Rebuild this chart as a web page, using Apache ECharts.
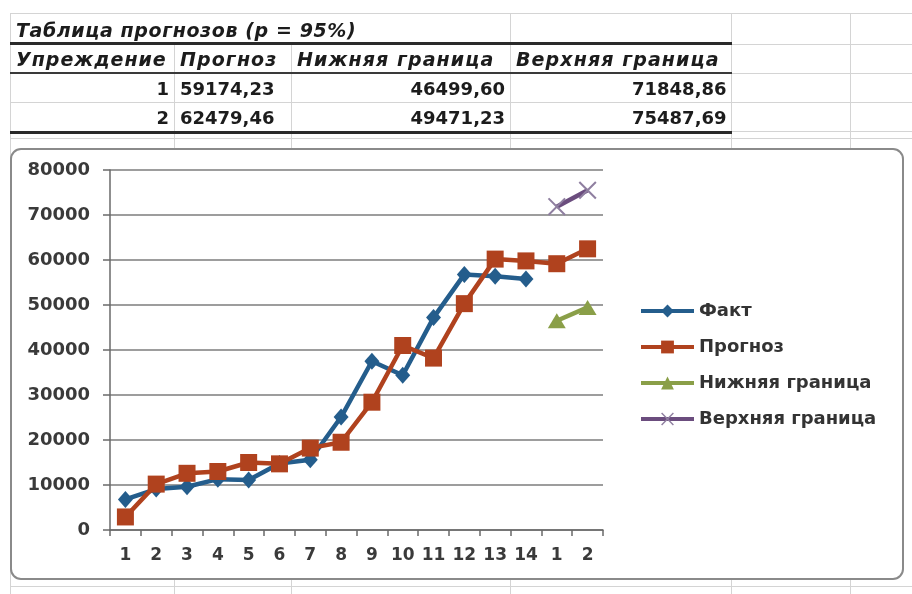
<!DOCTYPE html>
<html>
<head>
<meta charset="utf-8">
<script src="https://cdn.jsdelivr.net/npm/echarts@6/dist/echarts.min.js"></script>
<style>
  html, body { margin: 0; padding: 0; background: #fff; }
  #chart { position: absolute; left: 0; top: 0; width: 912px; height: 594px; }
  #fc {
    position: absolute; left: 10px; top: 13px;
    border-collapse: collapse; table-layout: fixed; width: 721px;
    font-family: 'DejaVu Sans', sans-serif; font-weight: bold; font-size: 18px; color: #1c1c1c;
  }
  #fc td { padding: 0 5px; white-space: nowrap; overflow: visible; border-left: 1px solid #d4d4d4; }
  #fc tr.title td { height: 24px; padding-top: 5px; font-style: italic; font-size: 19px; letter-spacing: 0.6px; border-bottom: 3px solid #2a2a2a; }
  #fc tr.head td { height: 27px; font-style: italic; font-size: 19px; letter-spacing: 1.1px; border-bottom: 2px solid #3a3a3a; }
  #fc tr.head td:first-child { letter-spacing: 1px; }
  #fc tr.row td { height: 28px; text-align: right; border-bottom: 1px solid #d4d4d4; }
  #fc tr.row.last td { border-bottom: 3px solid #2a2a2a; }
  #fc tr.row td.left { text-align: left; }
</style>
</head>
<body>
<div id="chart"></div>
<table id="fc">
  <colgroup><col style="width:164px"><col style="width:117px"><col style="width:219px"><col style="width:221px"></colgroup>
  <tbody id="fcBody"></tbody>
</table>
<script>
// данные графика
const periods = ['1', '2', '3', '4', '5', '6', '7', '8', '9', '10', '11', '12', '13', '14', '1', '2']
const factValues = [6800, 9100, 9600, 11300, 11100, 14800, 15600, 25100, 37500, 34400, 47200, 56800, 56400, 55800, null, null]
const forecastValues = [2900, 10200, 12600, 13000, 15000, 14700, 18200, 19500, 28400, 41000, 38200, 50300, 60200, 59800, 59174.23, 62479.46]
const lowerValues = [null, null, null, null, null, null, null, null, null, null, null, null, null, null, 46499.60, 49471.23]
const upperValues = [null, null, null, null, null, null, null, null, null, null, null, null, null, null, 71848.86, 75487.69]
const yTicks = [0, 10000, 20000, 30000, 40000, 50000, 60000, 70000, 80000]

// таблица прогнозов
const leads = [1, 2]
const firstLead = periods.length - leads.length
const fmt = v => v.toFixed(2).replace('.', ',')
const rows = [
  '<tr class="title"><td colspan="3">Таблица прогнозов (p = 95%)</td><td></td></tr>',
  '<tr class="head"><td>Упреждение</td><td>Прогноз</td><td>Нижняя граница</td><td>Верхняя граница</td></tr>'
]
leads.forEach((lead, i) => {
  const k = firstLead + i
  const cls = i === leads.length - 1 ? 'row last' : 'row'
  rows.push('<tr class="' + cls + '"><td>' + lead + '</td><td class="left">' + fmt(forecastValues[k]) +
    '</td><td>' + fmt(lowerValues[k]) + '</td><td>' + fmt(upperValues[k]) + '</td></tr>')
})
document.getElementById('fcBody').innerHTML = rows.join('')

// сетка листа Excel вокруг таблицы и диаграммы
const sheetLines = []
const hLine = (y, x1, x2) => sheetLines.push({ type: 'line', shape: { x1: x1, y1: y, x2: x2, y2: y }, style: { stroke: '#d4d4d4', lineWidth: 1 }, silent: true })
const vLine = (x, y1, y2) => sheetLines.push({ type: 'line', shape: { x1: x, y1: y1, x2: x, y2: y2 }, style: { stroke: '#d4d4d4', lineWidth: 1 }, silent: true })
hLine(13.5, 10, 912)
hLine(138.5, 10, 912)
;[44.5, 73.5, 102.5, 131.5].forEach(y => hLine(y, 731, 912))
hLine(586.5, 10, 912)
;[174.5, 291.5, 510.5].forEach(x => { vLine(x, 131, 148); vLine(x, 580, 594) })
;[731.5, 850.5].forEach(x => { vLine(x, 13, 148); vLine(x, 580, 594) })
vLine(10.5, 13, 594)

const chart = echarts.init(document.getElementById('chart'))
const font = 'DejaVu Sans'
const crossPath = 'path://M0,0.08 L0.08,0 L1,0.92 L0.92,1 Z M0.92,0 L1,0.08 L0.08,1 L0,0.92 Z'

const option = {
  animation: false,
  graphic: [
    { type: 'group', children: sheetLines },
    {
      type: 'rect',
      shape: { x: 11, y: 149, width: 892, height: 430, r: 10 },
      style: { fill: 'none', stroke: '#8a8a8a', lineWidth: 2 },
      silent: true
    }
  ],
  grid: { left: 110, right: 309, top: 170, bottom: 64, containLabel: false },
  legend: {
    orient: 'vertical',
    left: 634,
    top: 297,
    itemWidth: 53,
    itemHeight: 16,
    itemGap: 18,
    lineStyle: { width: 4 },
    textStyle: { fontFamily: font, fontWeight: 'bold', fontSize: 18, color: '#333' },
    data: ['Факт', 'Прогноз', 'Нижняя граница', 'Верхняя граница']
  },
  xAxis: {
    type: 'category',
    data: periods,
    boundaryGap: true,
    axisLine: { lineStyle: { color: '#6a6a6a', width: 1.5 } },
    axisTick: { show: true, length: 6, lineStyle: { color: '#6a6a6a', width: 1.5 } },
    axisLabel: { margin: 17, fontFamily: font, fontWeight: 'bold', fontSize: 17, color: '#3a3a3a' }
  },
  yAxis: {
    type: 'value',
    min: yTicks[0],
    max: yTicks[yTicks.length - 1],
    interval: yTicks[1] - yTicks[0],
    axisLine: { show: true, lineStyle: { color: '#6a6a6a', width: 1.5 } },
    axisTick: { show: true, length: 7, lineStyle: { color: '#6a6a6a', width: 1.5 } },
    splitLine: { lineStyle: { color: '#7d7d7d', width: 1.5 } },
    axisLabel: { margin: 20, fontFamily: font, fontWeight: 'bold', fontSize: 18, color: '#3a3a3a', formatter: v => String(v) }
  },
  series: [
    {
      name: 'Факт',
      type: 'line',
      data: factValues,
      symbol: 'diamond',
      symbolSize: [15, 17],
      lineStyle: { width: 4.5, color: '#245d8c' },
      itemStyle: { color: '#245d8c' }
    },
    {
      name: 'Прогноз',
      type: 'line',
      data: forecastValues,
      symbol: 'rect',
      symbolSize: 17,
      lineStyle: { width: 4.5, color: '#b0421e' },
      itemStyle: { color: '#b0421e' }
    },
    {
      name: 'Нижняя граница',
      type: 'line',
      data: lowerValues,
      symbol: 'triangle',
      symbolSize: [18, 15],
      lineStyle: { width: 4.5, color: '#8a9f48' },
      itemStyle: { color: '#8a9f48' }
    },
    {
      name: 'Верхняя граница',
      type: 'line',
      data: upperValues,
      symbol: crossPath,
      symbolSize: 18,
      lineStyle: { width: 4.5, color: '#6b4d7e' },
      itemStyle: { color: '#8f7fa0' }
    }
  ]
}

chart.setOption(option)
</script>
</body>
</html>
